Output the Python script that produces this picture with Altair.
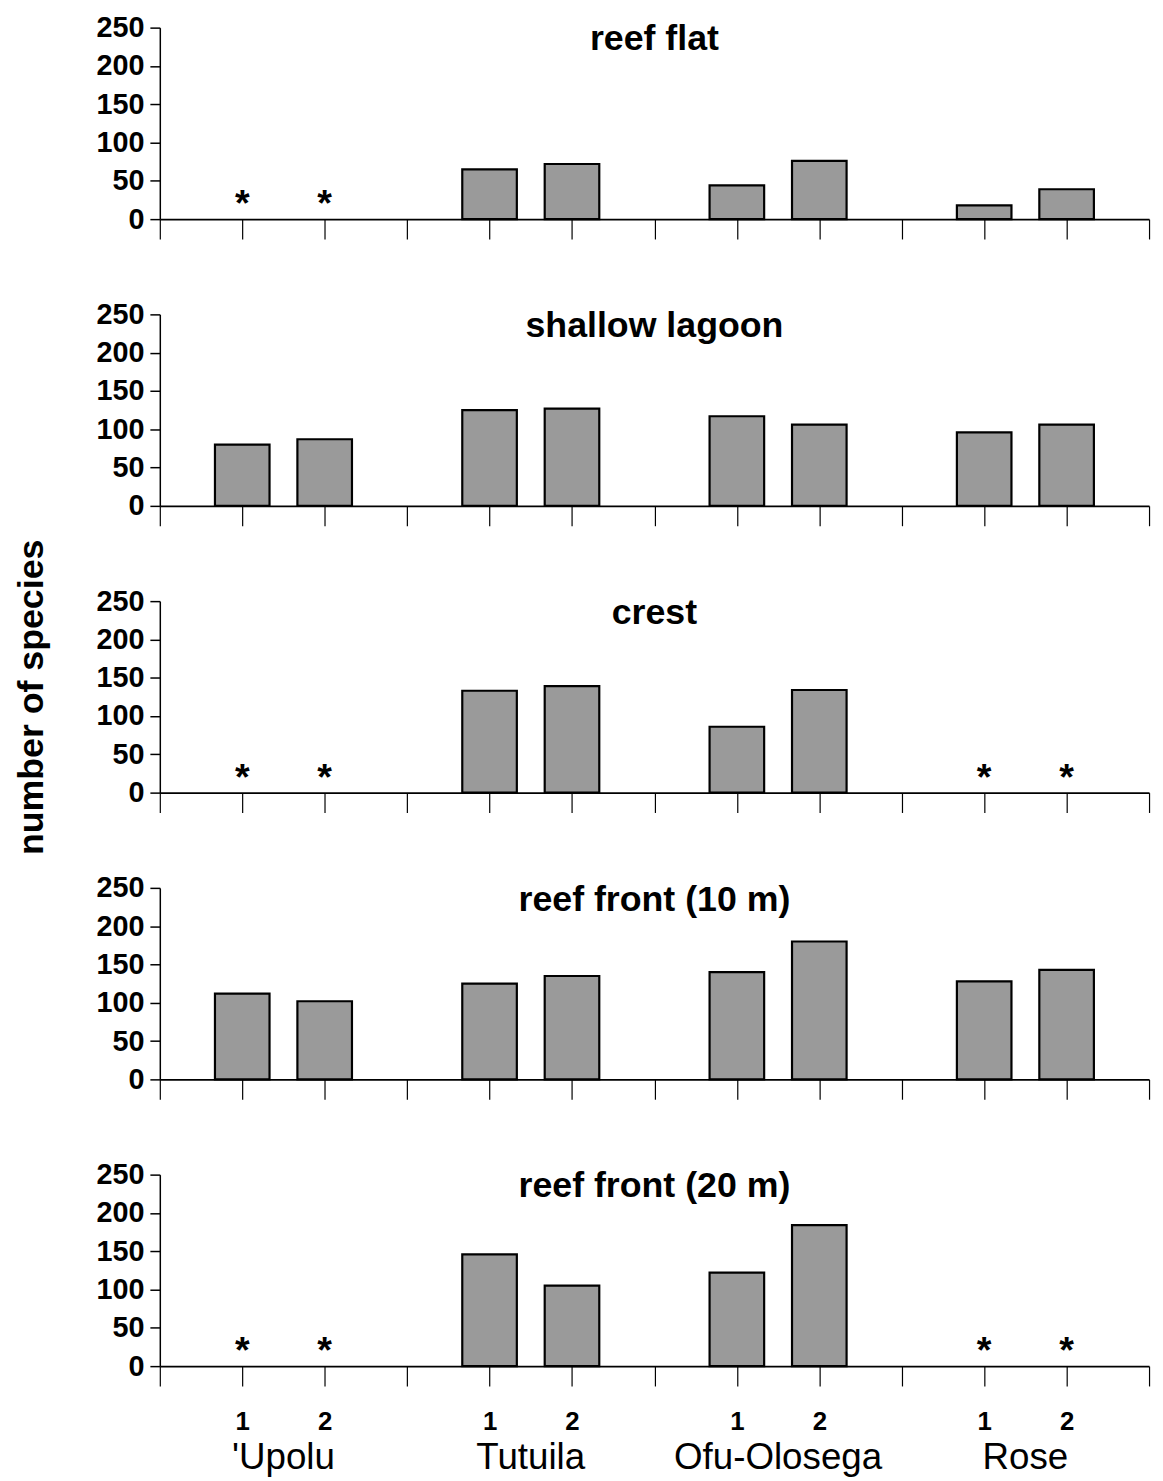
import altair as alt
import pandas as pd

habitats = ["reef flat", "shallow lagoon", "crest", "reef front (10 m)", "reef front (20 m)"]
positions = [1, 2, 4, 5, 7, 8, 10, 11]
site_labels = ["1", "2", "1", "2", "1", "2", "1", "2"]
islands = ["'Upolu", "Tutuila", "Ofu-Olosega", "Rose"]
island_pos = [1.5, 4.5, 7.5, 10.5]

# None = not surveyed (marked with an asterisk)
values = {
    "reef flat":         [None, None, 65, 72, 44, 76, 18, 39],
    "shallow lagoon":    [80, 87, 125, 127, 117, 106, 96, 106],
    "crest":             [None, None, 133, 139, 86, 134, None, None],
    "reef front (10 m)": [112, 102, 125, 135, 140, 180, 128, 143],
    "reef front (20 m)": [None, None, 146, 105, 122, 184, None, None],
}

W = 997
H = 193
FONT = "Liberation Sans"

pos_to_label = {p: l for p, l in zip(positions, site_labels)}
label_expr = "{" + ",".join(f"'{p}':'{l}'" for p, l in pos_to_label.items()) + "}[datum.value] || ''"

panels = []
for i, h in enumerate(habitats):
    bars = pd.DataFrame({"pos": positions, "n": values[h]})
    present = bars.dropna()
    missing = bars[bars["n"].isna()].assign(n=0, star="*")
    last = i == len(habitats) - 1

    x_common = dict(
        values=list(range(0, 13)), tickSize=20, tickColor="black", tickWidth=1.2,
        domainColor="black", domainWidth=2, grid=False, title=None,
    )
    if last:
        x_axis = alt.Axis(labels=True, labelExpr=label_expr, labelFontSize=26,
                          labelFontWeight="bold", labelFont=FONT, labelColor="black",
                          labelPadding=23, labelOverlap=False, **x_common)
    else:
        x_axis = alt.Axis(labels=False, **x_common)
    x = alt.X("pos:Q", scale=alt.Scale(domain=[0, 12], nice=False, zero=False, padding=0),
              axis=x_axis)
    y_kwargs = dict(
        values=[0, 50, 100, 150, 200, 250], tickSize=10, tickColor="black", tickWidth=1.5,
        domainColor="black", domainWidth=1.5, grid=False, labelOverlap=False,
        labelFontSize=29, labelFontWeight="bold", labelFont=FONT, labelColor="black",
        labelPadding=6,
    )
    if h == "crest":
        y_axis = alt.Axis(title="number of species", titleFontSize=36, titleFontWeight="bold",
                          titleFont=FONT, titleColor="black", titlePadding=46, **y_kwargs)
    else:
        y_axis = alt.Axis(title=None, **y_kwargs)
    yscale = alt.Scale(domain=[0, 250], nice=False, padding=0)
    y = alt.Y("n:Q", scale=yscale, axis=y_axis)

    bar = alt.Chart(present).mark_bar(size=55, color="#9a9a9a", stroke="black", strokeWidth=2.2).encode(
        x=x, y=y
    )
    title = alt.Chart(pd.DataFrame({"t": [h]})).mark_text(
        fontSize=36, fontWeight="bold", font=FONT, color="black", baseline="middle"
    ).encode(x=alt.value(W / 2), y=alt.value(12), text="t:N")
    layers = [bar, title]
    if len(missing):
        stars = alt.Chart(missing).mark_text(
            fontSize=38, fontWeight="bold", font=FONT, color="black", baseline="alphabetic", dy=-3
        ).encode(x=x, y=y, text="star:N")
        layers.append(stars)
    if last:
        names = alt.Chart(pd.DataFrame({"pos": island_pos, "name": islands})).mark_text(
            fontSize=37, font=FONT, color="black", baseline="middle"
        ).encode(x=x, y=alt.value(H + 93), text="name:N")
        layers.append(names)

    panel = alt.layer(*layers).properties(width=W, height=H)
    panels.append(panel)

chart = (alt.vconcat(*panels, spacing=96, bounds="flush")
         .properties(padding={"left": 5, "top": 0, "right": 5, "bottom": 0})
         .configure(background="white")
         .configure_view(stroke=None, strokeWidth=0))
chart.save("out.html", embed_options={"renderer": "svg", "actions": False})
